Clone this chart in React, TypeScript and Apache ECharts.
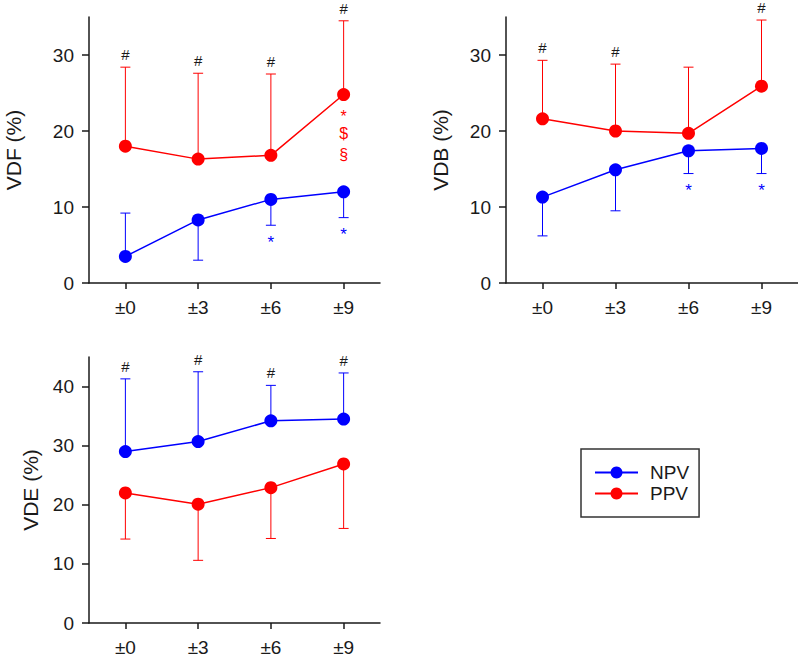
import React, { useEffect, useRef } from "react";
import * as echarts from "echarts";

const FONT = "'Liberation Sans', Arial, Helvetica, sans-serif";
const BLUE = "#0000ff";
const RED = "#ff0000";
const INK = "#1a1a1a";

const CATEGORIES = ["±0", "±3", "±6", "±9"];
const SERIES_NAMES = ["NPV", "PPV"];

// VDF panel: means, SD and the side each error bar is drawn on (1 = up, -1 = down)
const VDF_NPV = [3.5, 8.3, 11.0, 12.0];
const VDF_NPV_SD = [5.7, 5.3, 3.4, 3.4];
const VDF_NPV_DIR = [1, -1, -1, -1];
const VDF_PPV = [18.0, 16.3, 16.8, 24.8];
const VDF_PPV_SD = [10.4, 11.3, 10.7, 9.7];
const VDF_PPV_DIR = [1, 1, 1, 1];
const VDF_TOP_MARKS = ["#", "#", "#", "#"];
const VDF_NPV_MARKS = ["", "", "*", "*"];
const VDF_PPV_MARKS = [[], [], [], ["*", "$", "§"]];

// VDB panel
const VDB_NPV = [11.3, 14.9, 17.4, 17.7];
const VDB_NPV_SD = [5.1, 5.4, 3.0, 3.3];
const VDB_NPV_DIR = [-1, -1, -1, -1];
const VDB_PPV = [21.6, 20.0, 19.7, 25.9];
const VDB_PPV_SD = [7.7, 8.8, 8.7, 8.7];
const VDB_PPV_DIR = [1, 1, 1, 1];
const VDB_TOP_MARKS = ["#", "#", "", "#"];
const VDB_NPV_MARKS = ["", "", "*", "*"];
const VDB_PPV_MARKS = [[], [], [], []];

// VDE panel
const VDE_NPV = [29.0, 30.7, 34.2, 34.5];
const VDE_NPV_SD = [12.3, 11.8, 6.0, 7.8];
const VDE_NPV_DIR = [1, 1, 1, 1];
const VDE_PPV = [22.0, 20.1, 22.9, 26.9];
const VDE_PPV_SD = [7.8, 9.5, 8.6, 10.9];
const VDE_PPV_DIR = [-1, -1, -1, -1];
const VDE_TOP_MARKS = ["#", "#", "#", "#"];
const VDE_NPV_MARKS = ["", "", "", ""];
const VDE_PPV_MARKS = [[], [], [], []];

const VDF_TICKS = [0, 10, 20, 30];
const VDB_TICKS = [0, 10, 20, 30];
const VDE_TICKS = [0, 10, 20, 30, 40];

type Panel = {
  title: string;
  max: number;
  ticks: number[];
  nameGap: number;
  grid: { left: number; top: number; width: number; height: number };
  npv: number[];
  npvSd: number[];
  npvDir: number[];
  ppv: number[];
  ppvSd: number[];
  ppvDir: number[];
  topMarks: string[];
  npvMarks: string[];
  ppvMarks: string[][];
};

const PANELS: Panel[] = [
  {
    title: "VDF (%)", max: 35, ticks: VDF_TICKS, nameGap: 65,
    grid: { left: 89, top: 17, width: 291, height: 266 },
    npv: VDF_NPV, npvSd: VDF_NPV_SD, npvDir: VDF_NPV_DIR,
    ppv: VDF_PPV, ppvSd: VDF_PPV_SD, ppvDir: VDF_PPV_DIR,
    topMarks: VDF_TOP_MARKS, npvMarks: VDF_NPV_MARKS, ppvMarks: VDF_PPV_MARKS,
  },
  {
    title: "VDB (%)", max: 35, ticks: VDB_TICKS, nameGap: 55,
    grid: { left: 506, top: 17, width: 292, height: 266 },
    npv: VDB_NPV, npvSd: VDB_NPV_SD, npvDir: VDB_NPV_DIR,
    ppv: VDB_PPV, ppvSd: VDB_PPV_SD, ppvDir: VDB_PPV_DIR,
    topMarks: VDB_TOP_MARKS, npvMarks: VDB_NPV_MARKS, ppvMarks: VDB_PPV_MARKS,
  },
  {
    title: "VDE (%)", max: 45, ticks: VDE_TICKS, nameGap: 48,
    grid: { left: 89, top: 357, width: 291, height: 266 },
    npv: VDE_NPV, npvSd: VDE_NPV_SD, npvDir: VDE_NPV_DIR,
    ppv: VDE_PPV, ppvSd: VDE_PPV_SD, ppvDir: VDE_PPV_DIR,
    topMarks: VDE_TOP_MARKS, npvMarks: VDE_NPV_MARKS, ppvMarks: VDE_PPV_MARKS,
  },
];

function errorBars(gi: number, means: number[], sds: number[], dirs: number[], color: string) {
  return {
    type: "custom",
    name: "err-" + gi + color,
    xAxisIndex: gi,
    yAxisIndex: gi,
    silent: true,
    z: 2,
    data: means.map((m, i) => [i, m, m + dirs[i] * sds[i]]),
    encode: { x: 0, y: [1, 2] },
    renderItem: (_params: any, api: any) => {
      const a = api.coord([api.value(0), api.value(1)]);
      const b = api.coord([api.value(0), api.value(2)]);
      const style = { stroke: color, lineWidth: 1 };
      return {
        type: "group",
        children: [
          { type: "line", shape: { x1: a[0], y1: a[1], x2: b[0], y2: b[1] }, style },
          { type: "line", shape: { x1: b[0] - 5, y1: b[1], x2: b[0] + 5, y2: b[1] }, style },
        ],
      };
    },
  };
}

type Note = { cat: number; value: number; text: string; color: string; dy: number; size: number };

function notesFor(p: Panel): Note[] {
  const notes: Note[] = [];
  CATEGORIES.forEach((_c, i) => {
    const npvEnd = p.npv[i] + p.npvDir[i] * p.npvSd[i];
    const ppvEnd = p.ppv[i] + p.ppvDir[i] * p.ppvSd[i];
    if (p.topMarks[i]) {
      notes.push({ cat: i, value: Math.max(npvEnd, ppvEnd, p.npv[i], p.ppv[i]), text: p.topMarks[i], color: INK, dy: -12.5, size: 15 });
    }
    if (p.npvMarks[i]) {
      notes.push({ cat: i, value: Math.min(npvEnd, p.npv[i]), text: p.npvMarks[i], color: BLUE, dy: 17, size: 17 });
    }
    // stacked significance symbols under the PPV point
    const stackOffsets = [21.5, 38.5, 60];
    p.ppvMarks[i].forEach((t, k) => {
      notes.push({ cat: i, value: p.ppv[i], text: t, color: RED, dy: stackOffsets[k], size: 16 });
    });
  });
  return notes;
}

function noteSeries(gi: number, notes: Note[]) {
  return {
    type: "custom",
    name: "notes-" + gi,
    xAxisIndex: gi,
    yAxisIndex: gi,
    silent: true,
    z: 5,
    data: notes.map((n) => [n.cat, n.value]),
    encode: { x: 0, y: 1 },
    renderItem: (params: any, api: any) => {
      const n = notes[params.dataIndex];
      const pt = api.coord([api.value(0), api.value(1)]);
      return {
        type: "text",
        x: pt[0],
        y: pt[1] + n.dy,
        style: {
          text: n.text,
          fill: n.color,
          font: `${n.size}px ${FONT}`,
          lineHeight: 12,
          align: "center",
          verticalAlign: "middle",
        },
      };
    },
  };
}

function lineSeries(gi: number, name: string, values: number[], color: string) {
  return {
    type: "line",
    name,
    xAxisIndex: gi,
    yAxisIndex: gi,
    data: values,
    symbol: "circle",
    symbolSize: 13,
    z: 3,
    lineStyle: { color, width: 1.5 },
    itemStyle: { color },
  };
}

function buildOption() {
  const axisLine = { show: true, lineStyle: { color: INK, width: 1.5 } };
  return {
    animation: false,
    backgroundColor: "#ffffff",
    textStyle: { fontFamily: FONT },
    grid: PANELS.map((p) => ({ ...p.grid, containLabel: false })),
    xAxis: PANELS.map((_p, gi) => ({
      type: "category",
      gridIndex: gi,
      data: CATEGORIES,
      boundaryGap: true,
      axisLine,
      axisTick: { show: true, alignWithLabel: true, length: 6, lineStyle: { color: INK, width: 1.5 } },
      axisLabel: { color: INK, fontSize: 19, fontFamily: FONT, margin: 15 },
      splitLine: { show: false },
    })),
    yAxis: PANELS.map((p, gi) => ({
      type: "value",
      gridIndex: gi,
      min: 0,
      max: p.max,
      name: p.title,
      nameLocation: "middle",
      nameGap: p.nameGap,
      nameRotate: 90,
      nameTextStyle: { color: INK, fontSize: 21, fontFamily: FONT },
      axisLine,
      axisTick: { show: true, length: 7, customValues: p.ticks, lineStyle: { color: INK, width: 1.5 } },
      axisLabel: { color: INK, fontSize: 19, fontFamily: FONT, margin: 15, customValues: p.ticks },
      splitLine: { show: false },
    })),
    legend: {
      data: SERIES_NAMES,
      orient: "vertical",
      left: 581,
      top: 449,
      padding: [14, 10, 14, 13],
      itemGap: 2,
      itemWidth: 43,
      itemHeight: 15,
      borderColor: "#333333",
      borderWidth: 1.5,
      selectedMode: false,
      textStyle: { color: INK, fontSize: 19, fontFamily: FONT, padding: [0, 0, 0, 7] },
    },
    series: PANELS.flatMap((p, gi) => [
      errorBars(gi, p.npv, p.npvSd, p.npvDir, BLUE),
      errorBars(gi, p.ppv, p.ppvSd, p.ppvDir, RED),
      lineSeries(gi, "NPV", p.npv, BLUE),
      lineSeries(gi, "PPV", p.ppv, RED),
      noteSeries(gi, notesFor(p)),
    ]),
  };
}

export default function App() {
  const ref = useRef<HTMLDivElement>(null);
  useEffect(() => {
    if (!ref.current) return;
    const chart = echarts.init(ref.current, undefined, { renderer: "svg" });
    chart.setOption(buildOption() as any);
    return () => chart.dispose();
  }, []);
  return (
    <div
      ref={ref}
      style={{ position: "absolute", left: 0, top: 0, width: 798, height: 659, background: "#fff" }}
    />
  );
}
